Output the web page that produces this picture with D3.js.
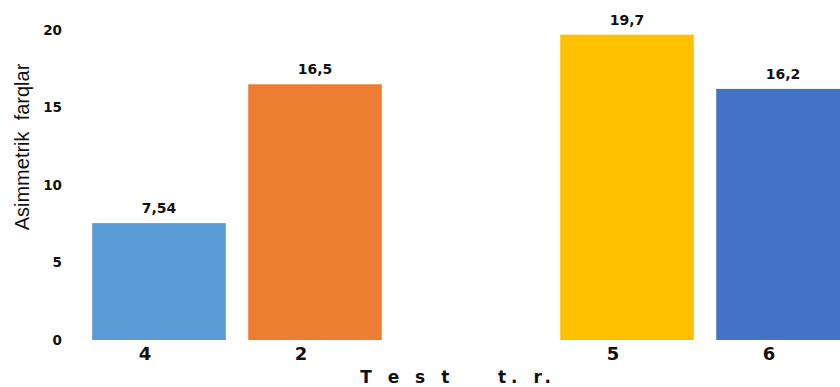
<!DOCTYPE html>
<html>
<head>
<meta charset="utf-8">
<script src="https://cdn.jsdelivr.net/npm/d3@7"></script>
<style>
  html, body { margin: 0; padding: 0; background: #fff; }
  svg { display: block; }
  text { fill: #111; }
</style>
</head>
<body>
<svg id="chart" width="840" height="387"></svg>
<script>
// Categories (the blank one keeps an empty slot between groups)
const categories = ["4", "2", "", "5", "6"];
const values = [7.54, 16.5, null, 19.7, 16.2];
const valueLabels = ["7,54", "16,5", "", "19,7", "16,2"];
const colors = ["#5B9BD5", "#ED7D31", "none", "#FFC000", "#4472C4"];
const yTicks = [0, 5, 10, 15, 20];
const yTitle = "Asimmetrik  farqlar";
const xTitle = "T e s t    t. r.";

const rows = categories.map((c, i) => ({ cat: c, value: values[i], label: valueLabels[i], color: colors[i] }));

const svg = d3.select("#chart");
const bold = "'DejaVu Sans', Verdana, sans-serif";

const y = d3.scaleLinear().domain([0, 20]).range([340, 30]);
const x = d3.scaleBand()
  .domain(categories)
  .range([81, 861])
  .paddingInner(0.144)
  .paddingOuter(0.072);

// Bars
svg.append("g").selectAll("rect")
  .data(rows.filter(d => d.value != null))
  .join("rect")
  .attr("x", d => x(d.cat))
  .attr("y", d => y(d.value))
  .attr("width", x.bandwidth())
  .attr("height", d => y(0) - y(d.value))
  .attr("fill", d => d.color);

// Value labels
svg.append("g").selectAll("text")
  .data(rows.filter(d => d.value != null))
  .join("text")
  .attr("x", d => x(d.cat) + x.bandwidth() / 2)
  .attr("y", d => y(d.value) - 10)
  .attr("text-anchor", "middle")
  .attr("font-family", bold)
  .attr("font-weight", "bold")
  .attr("font-size", 14)
  .text(d => d.label);

// Y axis (labels only)
const yAxis = svg.append("g")
  .attr("transform", "translate(62,0)")
  .call(d3.axisLeft(y).tickValues(yTicks).tickSize(0).tickPadding(0));
yAxis.select(".domain").remove();
yAxis.selectAll("text")
  .attr("font-family", bold)
  .attr("font-weight", "bold")
  .attr("font-size", 13.5)
  .attr("fill", "#111");

// X axis (labels only, sitting slightly left of bar centres)
const xAxis = svg.append("g")
  .attr("transform", "translate(-14,343)")
  .call(d3.axisBottom(x).tickSize(0).tickPadding(4));
xAxis.select(".domain").remove();
xAxis.selectAll("text")
  .attr("font-family", bold)
  .attr("font-weight", "bold")
  .attr("font-size", 18)
  .attr("fill", "#111");

// Axis titles
svg.append("text")
  .attr("transform", "translate(29,147) rotate(-90)")
  .attr("text-anchor", "middle")
  .attr("font-family", "'Liberation Sans', Arial, sans-serif")
  .attr("font-size", 20)
  .style("white-space", "pre")
  .text(yTitle);

svg.append("text")
  .attr("x", 458)
  .attr("y", 383)
  .attr("text-anchor", "middle")
  .attr("font-family", bold)
  .attr("font-weight", "bold")
  .attr("font-size", 17)
  .attr("letter-spacing", 5)
  .style("white-space", "pre")
  .text(xTitle);
</script>
</body>
</html>
